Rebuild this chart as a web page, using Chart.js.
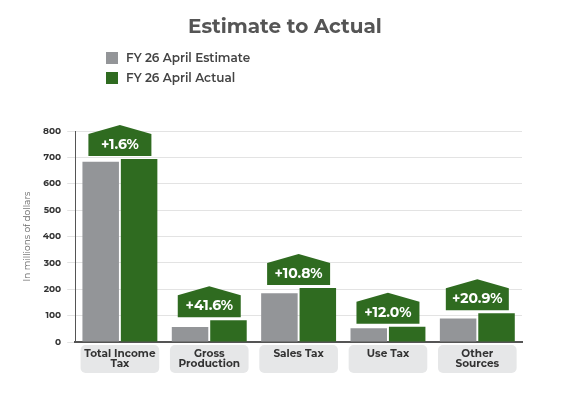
<!DOCTYPE html>
<html><head><meta charset="utf-8">
<script src="https://cdn.jsdelivr.net/npm/chart.js@4"></script>
<style>html,body{margin:0;padding:0;background:#fff}#w{width:570px;height:400px}</style>
</head><body><div id="w"><canvas id="c"></canvas></div>
<script>
const categories = [["Total Income","Tax"],["Gross","Production"],["Sales Tax"],["Use Tax"],["Other","Sources"]];
const estimate = [683, 57, 185, 52, 89];
const actual = [694, 82, 205, 58, 109];
const changes = ["+1.6%","+41.6%","+10.8%","+12.0%","+20.9%"];
const yTicks = [0,100,200,300,400,500,600,700,800];
const FONT = "Montserrat, 'Open Sans', Lato, sans-serif";

const deco = {
  id:'deco',
  afterDraw(chart){
    const {ctx, scales:{x,y}} = chart;
    ctx.save();
    ctx.fillStyle='#555'; ctx.font='bold 20px '+FONT; ctx.textAlign='center'; ctx.textBaseline='middle';
    ctx.fillText('Estimate to Actual', 285, 27);
    ctx.font='600 12px '+FONT; ctx.textAlign='left';
    ctx.fillStyle='#939598'; ctx.fillRect(106,52,12,12);
    ctx.fillStyle='#2f6b20'; ctx.fillRect(106,72,12,12);
    ctx.fillStyle='#444'; ctx.fillText('FY 26 April Estimate',126,58); ctx.fillText('FY 26 April Actual',126,78);
    const step = x.getPixelForValue(1)-x.getPixelForValue(0);
    categories.forEach((lab,i)=>{
      const cx = x.getPixelForValue(i);
      const w = step*0.88, top = y.bottom+3, h = 28;
      ctx.fillStyle='#e6e7e8';
      ctx.beginPath(); ctx.roundRect(cx-w/2, top, w, h, 5); ctx.fill();
      ctx.fillStyle='#333'; ctx.font='bold 10.5px '+FONT; ctx.textAlign='center';
      ctx.fillText(lab[0], cx, top+9);
      if(lab.length>1) ctx.fillText(lab[1], cx, top+19);
      const topV = Math.max(estimate[i], actual[i]);
      const by = y.getPixelForValue(topV)-3;
      const bw = 63, bh = 22, ph = 9;
      ctx.fillStyle='#2f6b20';
      ctx.beginPath();
      ctx.moveTo(cx-bw/2, by); ctx.lineTo(cx+bw/2, by); ctx.lineTo(cx+bw/2, by-bh);
      ctx.lineTo(cx, by-bh-ph); ctx.lineTo(cx-bw/2, by-bh); ctx.closePath(); ctx.fill();
      ctx.fillStyle='#fff'; ctx.font='bold 14px '+FONT;
      ctx.fillText(changes[i], cx, by-bh/2);
    });
    ctx.restore();
  }
};

new Chart(document.getElementById('c'), {
  type:'bar',
  data:{ labels: categories.map(c=>c.join(' ')),
    datasets:[
      {label:'FY 26 April Estimate', data:estimate, backgroundColor:'#939598', categoryPercentage:0.86, barPercentage:0.95},
      {label:'FY 26 April Actual', data:actual, backgroundColor:'#2f6b20', categoryPercentage:0.86, barPercentage:0.95}
    ]},
  options:{
    responsive:true, maintainAspectRatio:false, animation:false,
    layout:{padding:{top:131, bottom:50, right:48, left:18}},
    plugins:{legend:{display:false}, tooltip:{enabled:false}},
    scales:{
      x:{grid:{display:false}, border:{color:'#555', width:2}, ticks:{display:false}},
      y:{min:0,max:800, afterBuildTicks(s){s.ticks=yTicks.map(v=>({value:v}));},
        grid:{color:'#e3e3e3'}, border:{display:true,color:'#555',width:1},
        ticks:{color:'#333', font:{family:FONT,size:9,weight:'bold'}, padding:6},
        title:{display:true,text:'In millions of dollars',color:'#666',font:{family:FONT,size:9}}}
    }
  },
  plugins:[deco]
});
</script></body></html>
